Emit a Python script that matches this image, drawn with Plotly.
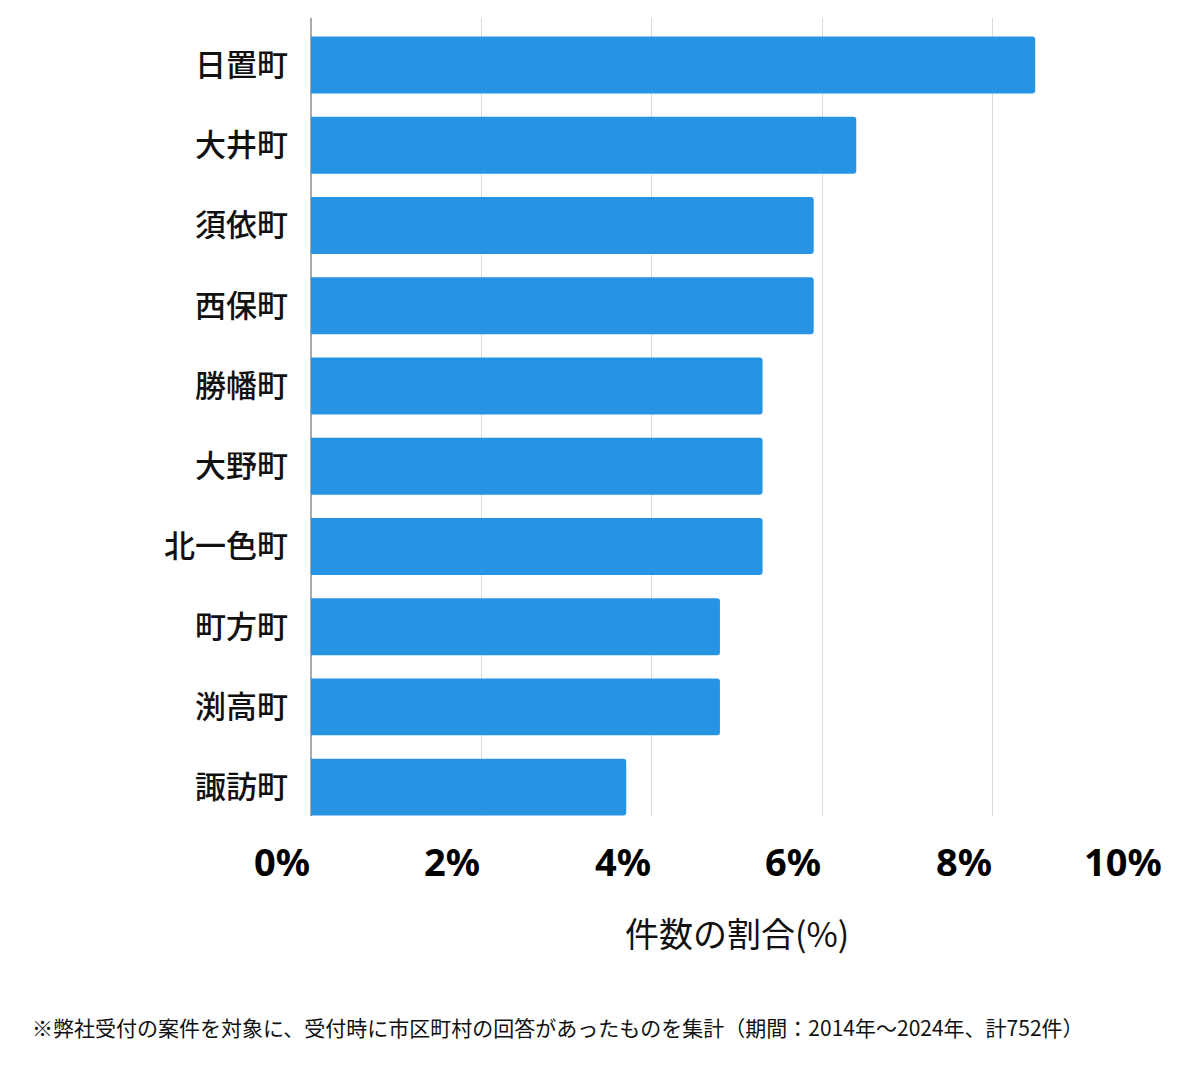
import plotly.graph_objects as go

categories = ["日置町", "大井町", "須依町", "西保町", "勝幡町", "大野町", "北一色町", "町方町", "渕高町", "諏訪町"]
percents = [8.5, 6.4, 5.9, 5.9, 5.3, 5.3, 5.3, 4.8, 4.8, 3.7]
tick_vals = [0, 2, 4, 6, 8, 10]
tick_text = ["0%", "2%", "4%", "6%", "8%", "10%"]
x_title = "件数の割合(%)"
footnote = "※弊社受付の案件を対象に、受付時に市区町村の回答があったものを集計（期間：2014年〜2024年、計752件）"

FONT = "Noto Sans CJK JP"

W, H = 1200, 1069
ML, MR, MT, MB = 311, 37, 18, 253
plot_w = W - ML - MR
plot_h = H - MT - MB

fig = go.Figure(go.Bar(
    x=percents, y=categories, orientation="h",
    marker=dict(color="#2694E3", line=dict(width=0)),
    hoverinfo="skip",
))

fig.update_layout(
    width=W, height=H,
    margin=dict(l=ML, r=MR, t=MT, b=MB),
    paper_bgcolor="white", plot_bgcolor="white",
    bargap=0.29, barcornerradius=3,
    showlegend=False,
    font=dict(family=FONT, color="#111"),
)
fig.update_xaxes(
    range=[0, 10], tickvals=tick_vals, showticklabels=False,
    showgrid=True, gridcolor="#d9d9d9", gridwidth=1,
    zeroline=True, zerolinecolor="#aaaaaa", zerolinewidth=2,
    showline=False, fixedrange=True,
)
fig.update_yaxes(
    range=[9.36, -0.586], showgrid=False, showline=False, zeroline=False,
    ticks="", ticklabelstandoff=22,
    tickfont=dict(family=FONT, size=31, color="#111", weight=500),
)

for v, t in zip(tick_vals, tick_text):
    fig.add_annotation(
        x=v, y=0, xref="x", yref="paper", text=t, showarrow=False,
        xanchor="right", yanchor="top", yshift=-17, xshift=1,
        font=dict(family="Noto Sans", size=38, color="#000", weight="bold"),
    )

fig.add_annotation(
    x=0.5, y=0, xref="paper", yref="paper", text=x_title, showarrow=False,
    xanchor="center", yanchor="top", yshift=-90,
    font=dict(family=FONT, size=34, color="#111"),
)
fig.add_annotation(
    x=(30 - ML) / plot_w, y=(H - MB - 1027) / plot_h, xref="paper", yref="paper",
    text=footnote, showarrow=False,
    xanchor="left", yanchor="middle",
    font=dict(family=FONT, size=21, color="#111"),
)

fig.write_html("out.html")
